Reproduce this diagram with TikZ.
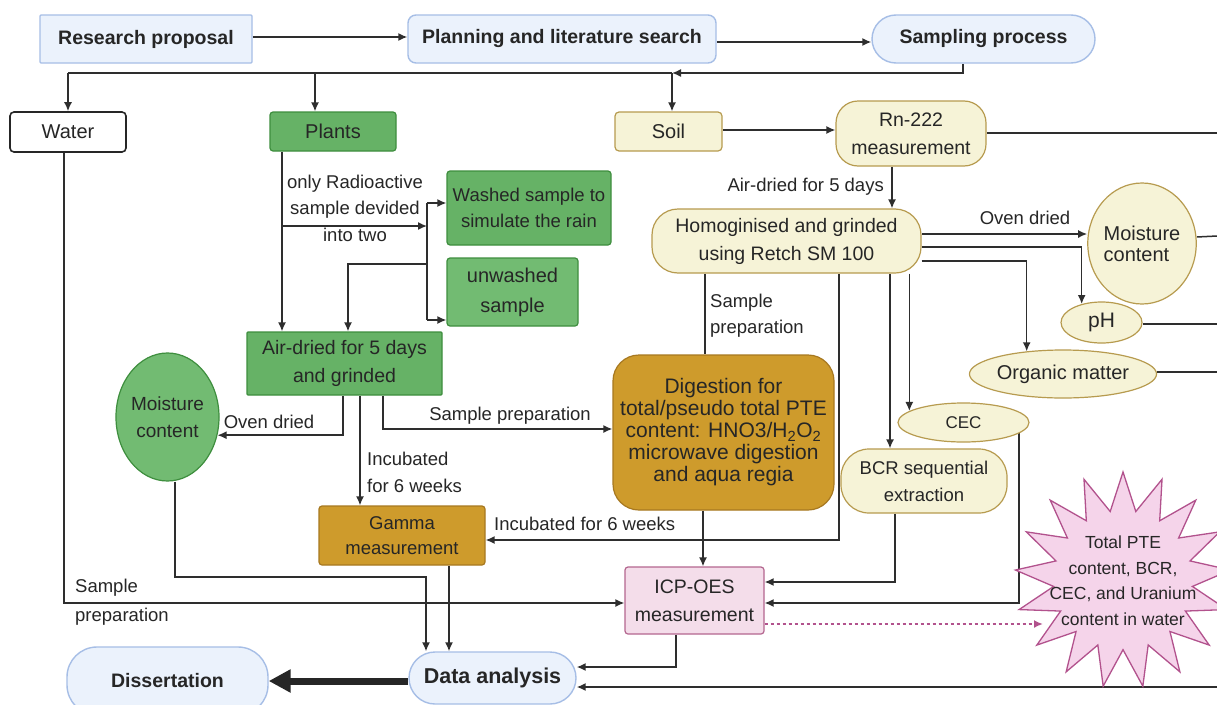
\documentclass[tikz,border=0pt]{standalone}
\usepackage{fontspec}
\setmainfont{Liberation Sans}
\usetikzlibrary{shapes.geometric,arrows.meta}
\pgfdeclarelayer{bg}
\pgfsetlayers{bg,main}
\definecolor{txt}{HTML}{262626}
\definecolor{lnc}{HTML}{2E2E2E}
\definecolor{bluef}{HTML}{EBF2FC}
\definecolor{blued}{HTML}{A6BEE6}
\definecolor{greenf}{HTML}{66B266}
\definecolor{greenl}{HTML}{72BB72}
\definecolor{greend}{HTML}{3E8E3E}
\definecolor{creamf}{HTML}{F6F3D7}
\definecolor{creamd}{HTML}{B79B4F}
\definecolor{goldf}{HTML}{CE9B2C}
\definecolor{goldd}{HTML}{A77820}
\definecolor{pinkf}{HTML}{F4DDEA}
\definecolor{pinkd}{HTML}{B4668F}
\definecolor{starf}{HTML}{F5D4EA}
\definecolor{stard}{HTML}{B2528D}
\tikzset{
  base/.style={draw, line width=1.2pt, align=center, inner sep=0pt, text=txt,
    font=\fontsize{19.5}{28}\selectfont},
  bluebox/.style={base, fill=bluef, draw=blued, line width=1.4pt,
    font=\bfseries\fontsize{19.5}{24}\selectfont},
  greenbox/.style={base, fill=greenf, draw=greend, rounded corners=3pt},
  creambox/.style={base, fill=creamf, draw=creamd},
  goldbox/.style={base, fill=goldf, draw=goldd},
  arr/.style={draw=lnc, line width=1.5pt, -{Latex[length=9pt,width=8pt]}},
  plainln/.style={draw=lnc, line width=1.5pt},
  dotarr/.style={draw=stard, line width=1.9pt, dash pattern=on 3pt off 3pt,
    -{Latex[length=9pt,width=8pt]}},
  bigarr/.style={draw=black!85, line width=7pt, -{Triangle[length=22pt,width=22pt]}},
  lbl/.style={inner sep=0pt, align=left, text=txt, font=\fontsize{18.5}{26.5}\selectfont},
}
\begin{document}
\begin{tikzpicture}[x=1pt,y=-1pt]
\useasboundingbox (0,0) rectangle (1217,704);
\begin{pgfonlayer}{bg}
\fill[white] (0,0) rectangle (1217,704);
\end{pgfonlayer}

% ---- nodes ----
\node[bluebox, minimum width=212pt, minimum height=48pt, rounded corners=1pt] (rp) at (146,39) {Research proposal};
\node[bluebox, minimum width=308pt, minimum height=48pt, rounded corners=8pt] (pls) at (562,39) {Planning and literature search};
\node[bluebox, minimum width=223pt, minimum height=48pt, rounded corners=24pt] (sp) at (983.5,39) {Sampling process};

\node[base, fill=white, draw=black!85, line width=1.6pt, rounded corners=4pt, minimum width=116pt, minimum height=40pt, font=\fontsize{20}{24}\selectfont] (water) at (68,132) {Water};
\node[greenbox, minimum width=126pt, minimum height=39pt, font=\fontsize{20}{24}\selectfont] (plants) at (333,131.5) {Plants};
\node[creambox, rounded corners=4pt, minimum width=107pt, minimum height=39pt, font=\fontsize{20}{24}\selectfont] (soil) at (668.5,131.5) {Soil};
\node[creambox, rounded corners=22pt, minimum width=150pt, minimum height=65pt] (rn) at (911,133.5) {Rn-222\\measurement};
\node[creambox, rounded corners=26pt, minimum width=269pt, minimum height=64pt] (homog) at (786.5,241) {Homoginised and grinded\\using Retch SM 100};
\node[creambox, ellipse, minimum width=90pt, minimum height=121pt, align=left, font=\fontsize{20}{21}\selectfont] (moist2) at (1142,243.5) {Moisture\\content};
\node[creambox, ellipse, minimum width=81pt, minimum height=41pt, font=\fontsize{21}{24}\selectfont] (ph) at (1101.5,322.5) {pH};
\node[creambox, ellipse, minimum width=164pt, minimum height=48pt, font=\fontsize{20}{24}\selectfont] (om) at (1063,374) {Organic matter};
\node[creambox, ellipse, minimum width=131pt, minimum height=39pt, font=\fontsize{17}{20}\selectfont] (cec) at (963.5,422.5) {CEC};
\node[creambox, rounded corners=28pt, minimum width=166pt, minimum height=64pt, font=\fontsize{18.5}{27}\selectfont] (bcr) at (924,481) {BCR sequential\\extraction};
\node[goldbox, rounded corners=26pt, minimum width=221pt, minimum height=155pt, font=\fontsize{21}{22}\selectfont] (dig) at (723.5,432.5) {Digestion for\\total/pseudo total PTE\\content: HNO3/H\textsubscript{2}O\textsubscript{2}\\microwave digestion\\and aqua regia};
\node[base, fill=pinkf, draw=pinkd, rounded corners=3pt, minimum width=139pt, minimum height=67pt] (icp) at (694.5,600.5) {ICP-OES\\measurement};
\node[star, star points=17, star point ratio=1.55, minimum size=216pt, inner sep=0pt, draw=stard, fill=starf, line width=1.3pt] (st) at (1123,580) {};
\node[align=center, inner sep=0pt, text=txt, font=\fontsize{17.5}{25.5}\selectfont] (stt) at (1123,580.5) {Total PTE\\content, BCR,\\CEC, and Uranium\\content in water};

\node[greenbox, minimum width=164pt, minimum height=74pt, font=\fontsize{18.5}{26}\selectfont] (washed) at (529,208) {Washed sample to\\simulate the rain};
\node[greenbox, fill=greenl, minimum width=131pt, minimum height=68pt, font=\fontsize{20}{30}\selectfont] (unwashed) at (512.5,292) {unwashed\\sample};
\node[greenbox, rounded corners=1pt, minimum width=195pt, minimum height=63pt] (airdried) at (344.5,363.5) {Air-dried for 5 days\\and grinded};
\node[greenbox, ellipse, sharp corners, fill=greenl, minimum width=89pt, minimum height=128pt, font=\fontsize{19}{27}\selectfont] (moist1) at (167.5,417) {Moisture\\content};
\node[goldbox, rounded corners=3pt, minimum width=166pt, minimum height=59pt, font=\fontsize{18.5}{25}\selectfont] (gamma) at (402,535.5) {Gamma\\measurement};
\node[bluebox, rounded corners=26pt, minimum width=167pt, minimum height=52pt, font=\bfseries\fontsize{21.5}{24}\selectfont] (data) at (492.5,678) {Data analysis};
\node[bluebox, rounded corners=30pt, minimum width=201pt, minimum height=68pt] (diss) at (167.5,681) {Dissertation};

% ---- labels ----
\node[lbl, align=center] (l1) at (355,208) {only Radioactive\\sample devided\\into two};
\node[lbl] (l2) at (269,422) {Oven dried};
\node[lbl] (l3) at (510,416) {Sample preparation};
\node[lbl, anchor=west, font=\fontsize{18.5}{27}\selectfont] (l4) at (367,472.5) {Incubated\\for 6 weeks};
\node[lbl, anchor=west] (l5) at (494,524) {Incubated for 6 weeks};
\node[lbl, anchor=east] (l6) at (884,187) {Air-dried for 5 days};
\node[lbl] (l7) at (1025,218) {Oven dried};
\node[lbl, anchor=west, font=\fontsize{18.5}{26}\selectfont] (l8) at (710,316) {Sample\\preparation};
\node[lbl, anchor=west] (l9) at (75,588) {Sample};
\node[lbl, anchor=west] (l10) at (75,617) {preparation};

% ---- free coordinates ----
\coordinate (j) at (672,73);
\coordinate (bs) at (282,226);
\coordinate (bv) at (427,226);
\coordinate (r1) at (1217,133);
\coordinate (r2) at (1217,236);
\coordinate (r3) at (1217,324);
\coordinate (r4) at (1217,372);
\coordinate (r5) at (1217,687);
\coordinate (sin) at (1043,624);

% ---- connectors ----
\begin{pgfonlayer}{bg}
\draw[arr] (rp.east |- 0,37) -- (pls.west |- 0,37);
\draw[arr] (pls.east |- 0,42) -- (sp.west |- 0,42);
\draw[arr] (sp.south -| 963,0) |- (j);
\draw[plainln] (j) -- (j -| water.north);
\draw[arr] (j -| water.north) -- (water.north);
\draw[arr] (j -| 315,0) -- (plants.north -| 315,0);
\draw[arr] (j) -- (j |- soil.north);
\draw[arr] (soil.east |- 0,130) -- (rn.west |- 0,130);
\draw[plainln] (rn.east |- r1) -- (r1);
\draw[arr] (rn.south -| 892,0) -- (homog.north -| 892,0);
\draw[arr] (homog.east |- 0,234) -- (moist2.west |- 0,234);
\draw[arr] (homog.east |- 0,247) -| (ph.137.3);
\draw[arr] (homog.east |- 0,261) -| (om.148.2);
\draw[plainln] (moist2.east |- 0,237) -- (r2);
\draw[plainln] (ph.east |- r3) -- (r3);
\draw[plainln] (om.east |- r4) -- (r4);
\draw[arr] (homog.south -| cec.168.8) -- (cec.168.8);
\draw[arr] (homog.south -| 890,0) -- (bcr.north -| 890,0);
\draw[arr] (homog.south -| 839,0) |- (gamma.east |- 0,540);
\draw[plainln] (homog.south -| 705,0) -- (dig.north -| 705,0);
\draw[arr] (dig.south -| 703,0) -- (icp.north -| 703,0);
\draw[arr] (bcr.south -| 895,0) |- (icp.east |- 0,582);
\draw[arr] (cec.-11.2) |- (icp.east |- 0,603);
\draw[dotarr] (icp.east |- sin) -- (sin);
\draw[arr] (icp.south -| 676,0) |- (data.east |- 0,667);
\draw[arr] (r5) -- (data.east |- r5);
\draw[bigarr] (data.west |- 0,681) -- (diss.east |- 0,681);

\draw[arr] (plants.south -| bs) -- (airdried.north -| bs);
\draw[arr] (bs) -- (bv);
\draw[plainln] (bv |- 0,203) -- (bv |- 0,320);
\draw[arr] (bv |- 0,203) -- (washed.west |- 0,203);
\draw[arr] (bv |- 0,320) -- (unwashed.west |- 0,320);
\draw[arr] (bv |- 0,264) -| (airdried.north -| 348,0);
\draw[arr] (airdried.south -| 343,0) |- (moist1.-20.4);
\draw[arr] (airdried.south -| 360,0) -- (gamma.north -| 360,0);
\draw[arr] (airdried.south -| 383,0) |- (dig.west |- 0,429);
\draw[arr] (moist1.south -| 175,0) |- (426,577) -- (data.north -| 426,0);
\draw[arr] (gamma.south -| 449,0) -- (data.north -| 449,0);
\draw[arr] (water.south -| 64,0) |- (icp.west |- 0,603);
\end{pgfonlayer}
\end{tikzpicture}
\end{document}
